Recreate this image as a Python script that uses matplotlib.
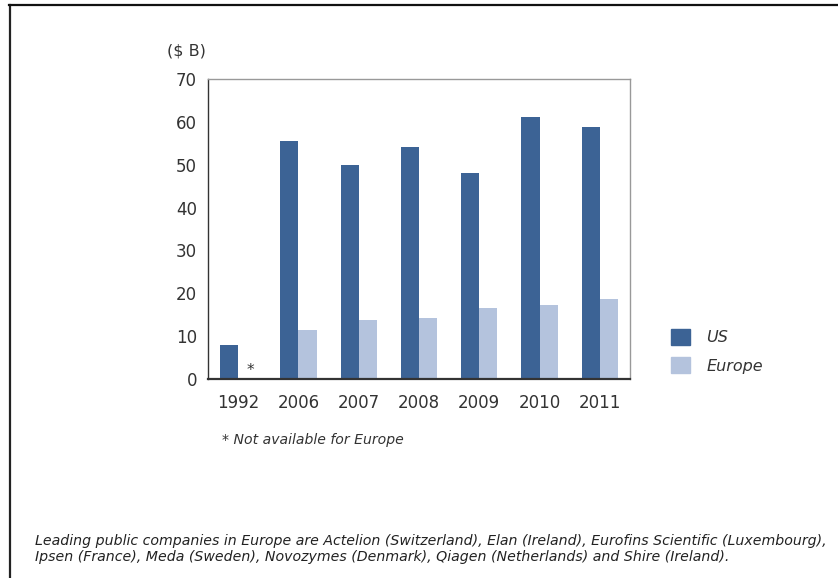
"""Bar chart of US vs Europe biotech revenues, 1992 and 2006-2011."""

import matplotlib
matplotlib.use("Agg")
import matplotlib.pyplot as plt
from matplotlib.lines import Line2D
from matplotlib.patches import Patch
import numpy as np

years = ["1992", "2006", "2007", "2008", "2009", "2010", "2011"]
us = [8.0, 55.5, 49.9, 54.1, 48.1, 61.1, 58.8]
europe = [np.nan, 11.4, 13.8, 14.2, 16.6, 17.3, 18.7]

US_COLOR = "#3c6395"
EU_COLOR = "#b4c3dd"
TEXT = "#333333"

plt.rcParams["font.family"] = ["DejaVu Sans"]

fig = plt.figure(figsize=(8.38, 5.78), dpi=100)
W, H = 838, 578
ax = fig.add_axes([208 / W, 1 - 379 / H, 422 / W, 300 / H])

x = np.arange(len(years))
width = 0.3
ax.bar(x - width / 2, us, width, color=US_COLOR)
ax.bar(x + width / 2, np.nan_to_num(europe), width, color=EU_COLOR)
ax.text(x[0] + width / 2 + 0.05, 0.3, "*", ha="center", va="bottom", fontsize=11, color=TEXT)

ax.set_xlim(-0.5, 6.5)
ax.set_ylim(0, 70)
ax.set_yticks(range(0, 71, 10))
ax.set_xticks(x)
ax.set_xticklabels(years)
ax.tick_params(length=0, labelsize=12, labelcolor=TEXT)
ax.tick_params(axis="y", pad=8)
ax.tick_params(axis="x", pad=11)
for side in ("left", "bottom"):
    ax.spines[side].set_color("#333333")
ax.spines["bottom"].set_linewidth(1.6)
ax.spines["left"].set_linewidth(1.0)
for side in ("top", "right"):
    ax.spines[side].set_color("#999999")
    ax.spines[side].set_linewidth(1.0)

fig.text(167 / W, 1 - 51 / H, "($ B)", fontsize=11.5, color=TEXT, va="center")
fig.text(222 / W, 1 - 440 / H, "* Not available for Europe", fontsize=10.1,
         style="italic", color=TEXT, va="center")

handles = [Patch(color=US_COLOR), Patch(color=EU_COLOR)]
fig.legend(handles, ["US", "Europe"], loc="upper left",
           bbox_to_anchor=(657 / W, 1 - 315 / H), frameon=False,
           prop={"size": 11.5, "style": "italic"}, labelcolor=TEXT,
           handlelength=1.15, handleheight=1.1, handletextpad=1.05,
           labelspacing=0.75)

note = ("Leading public companies in Europe are Actelion (Switzerland), Elan (Ireland), "
        "Eurofins Scientific (Luxembourg),\n"
        "Ipsen (France), Meda (Sweden), Novozymes (Denmark), Qiagen (Netherlands) "
        "and Shire (Ireland).")
fig.text(35 / W, 1 - 549 / H, note, fontsize=10.2, style="italic", color="#222222",
         family=["Liberation Sans Narrow", "DejaVu Sans"], va="center",
         linespacing=1.25)

# page frame along the top and left edges
fig.add_artist(Line2D([10 / W, 10 / W], [0, 1 - 5 / H], transform=fig.transFigure,
                      color="#222222", linewidth=1.6))
fig.add_artist(Line2D([9 / W, 1], [1 - 5 / H, 1 - 5 / H], transform=fig.transFigure,
                      color="#111111", linewidth=1.6))

fig.savefig("out.png", dpi=100)
